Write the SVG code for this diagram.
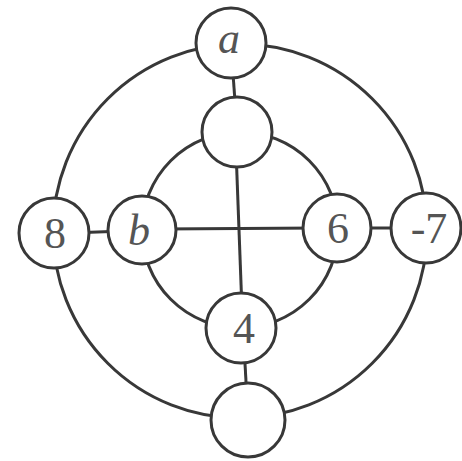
<svg xmlns="http://www.w3.org/2000/svg" width="462" height="461" viewBox="0 0 462 461">
<style>
.edge{fill:none;stroke:#383838;stroke-width:3}
.node circle{fill:#fff;stroke:#383838;stroke-width:3}
.node text{font-family:"Liberation Serif","DejaVu Serif",serif;font-size:44px;fill:#555;text-anchor:middle}
.it{font-style:italic}
</style>
<rect width="462" height="461" fill="#fff"/>
<g id="connectors">
<circle class="edge" cx="240" cy="231" r="187"/>
<circle class="edge" cx="240" cy="230" r="98"/>
<line class="edge" x1="236" y1="150" x2="242" y2="310"/>
<line class="edge" x1="160" y1="229" x2="320" y2="228"/>
<line class="edge" x1="232" y1="60" x2="236" y2="115"/>
<line class="edge" x1="70" y1="233" x2="125" y2="231"/>
<line class="edge" x1="355" y1="228" x2="410" y2="228"/>
<line class="edge" x1="244" y1="345" x2="247" y2="400"/>
</g>
<g id="node-a" class="node"><circle cx="231" cy="43" r="35"/><text class="it" x="229" y="53">a</text></g>
<g id="node-top" class="node"><circle cx="237" cy="132" r="35"/></g>
<g id="node-8" class="node"><circle cx="54" cy="233" r="35"/><text x="55" y="248">8</text></g>
<g id="node-b" class="node"><circle cx="142" cy="230" r="34"/><text class="it" x="139" y="245">b</text></g>
<g id="node-6" class="node"><circle cx="337" cy="228" r="34"/><text x="338" y="243">6</text></g>
<g id="node-m7" class="node"><circle cx="426" cy="228" r="35"/><text x="429" y="243">-7</text></g>
<g id="node-4" class="node"><circle cx="241" cy="328" r="35"/><text x="244" y="343">4</text></g>
<g id="node-bottom" class="node"><circle cx="248" cy="420" r="37"/></g>
</svg>
